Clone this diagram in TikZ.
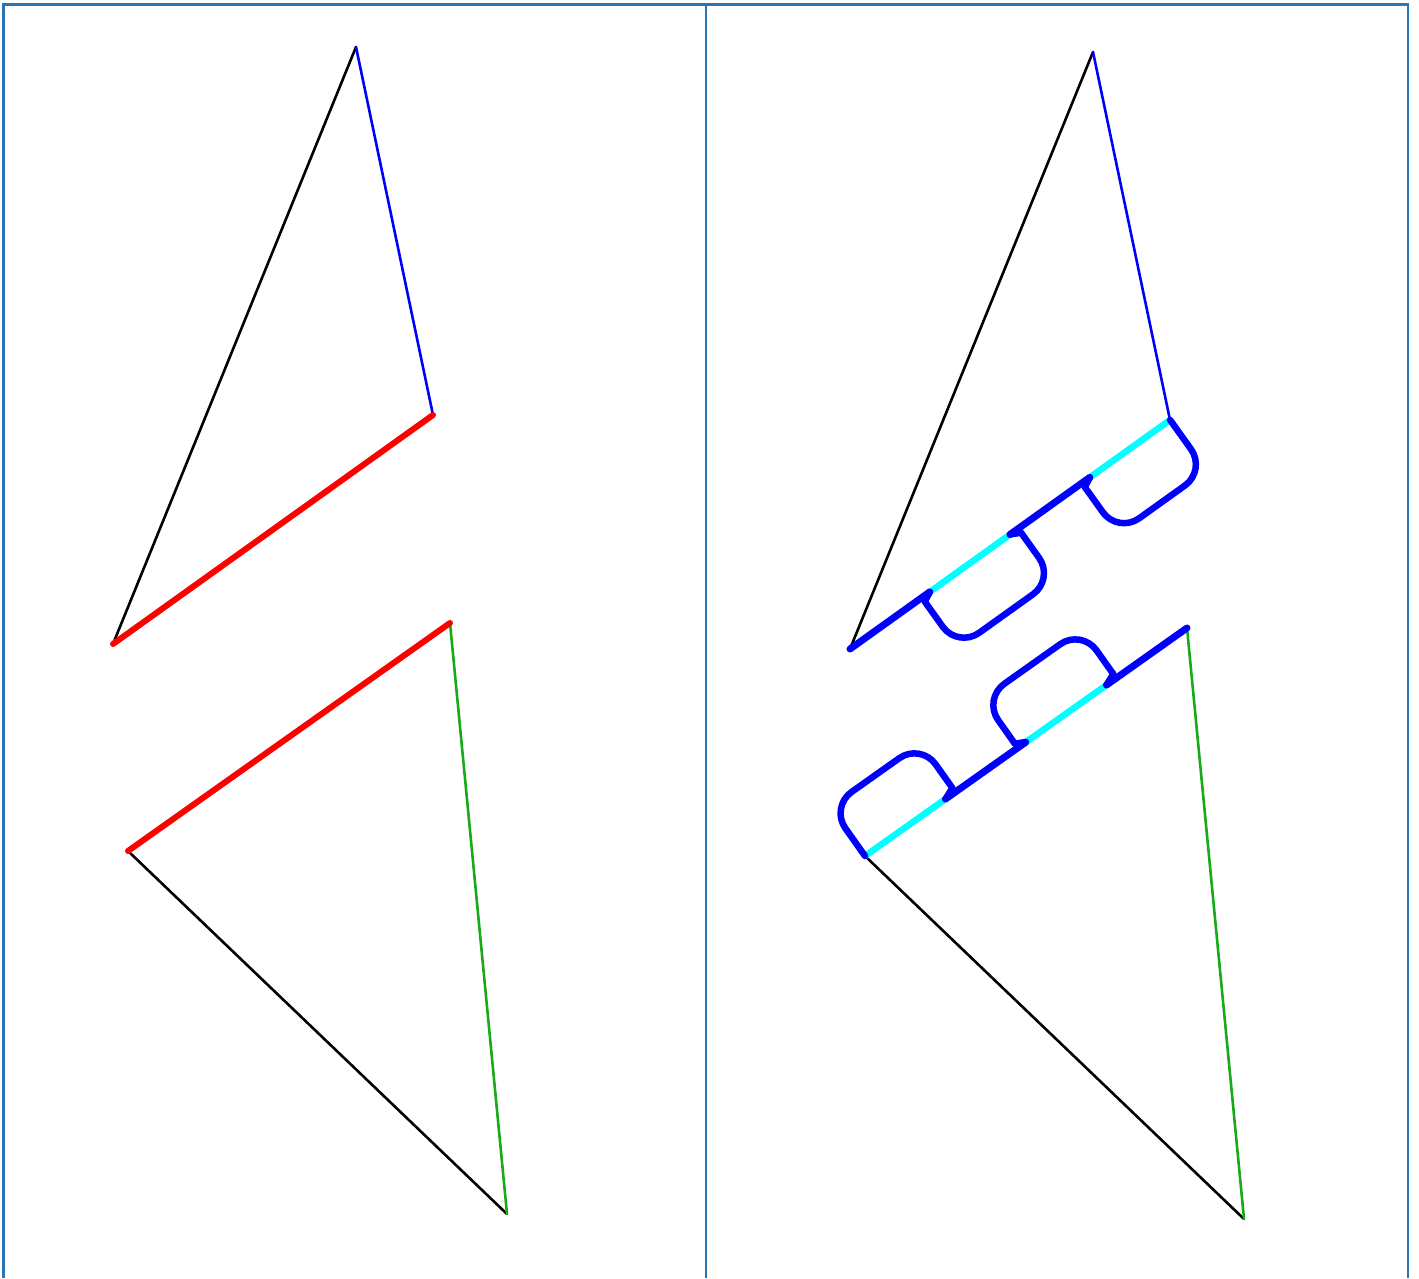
\documentclass[tikz,border=0pt]{standalone}
\definecolor{frame}{RGB}{41,117,182}
\definecolor{cutred}{RGB}{255,0,0}
\definecolor{foldgreen}{RGB}{25,170,25}
\definecolor{tabblue}{RGB}{0,0,255}
\definecolor{tabcyan}{RGB}{0,255,255}
\usepackage{tikz}
\usetikzlibrary{calc}

\begin{document}
\begin{tikzpicture}[x=1pt,y=1pt,
    panel/.style={frame,line width=2.8pt},
    edge/.style={line width=2.6pt,line cap=round,line join=round},
    seam/.style={cutred,line width=6pt,line cap=round},
    glue/.style={tabcyan,line width=6.5pt},
    fold/.style={tabblue,line width=7pt,line cap=round},
    flap/.style={tabblue,line width=6.5pt,line cap=round,line join=round}]
    \useasboundingbox (0,0) rectangle (1419,1278);

    % panel frames
    \draw[panel] (3.5,0) |- (1408,1273.5) -- (1408,0);
    \draw[panel] (706,0) -- (706,1273.5);

    % the two triangle pairs, right one shifted
    \foreach \p/\dx/\dy in {l/0/0,r/737/-5} {
        \begin{scope}[shift={(\dx,\dy)}]
            \coordinate (\p A) at (356,1231);
            \coordinate (\p B) at (433,863);
            \coordinate (\p C) at (113,634);
            \coordinate (\p D) at (450,655);
            \coordinate (\p E) at (128,427);
            \coordinate (\p F) at (507,64);
        \end{scope}
        \draw[edge,black] (\p A) -- (\p C);
        \draw[edge,blue] (\p A) -- (\p B);
        \draw[edge,black] (\p E) -- (\p F);
        \draw[edge,foldgreen] (\p D) -- (\p F);
    }

    % left: shared edge in red
    \draw[seam] (lB) -- (lC);
    \draw[seam] (lD) -- (lE);

    % right: shared edge split in quarters
    \foreach \i in {0,...,3} {
        \pgfmathsetmacro{\s}{\i/4}
        \pgfmathsetmacro{\e}{(\i+1)/4}
        \ifodd\i
            \draw[glue] ($(rC)!\s!(rB)$) -- ($(rC)!\e!(rB)$);
            \draw[fold] ($(rE)!\s!(rD)$) -- ($(rE)!\e!(rD)$);
        \else
            \draw[fold] ($(rC)!\s!(rB)$) -- ($(rC)!\e!(rB)$);
            \draw[glue] ($(rE)!\s!(rD)$) -- ($(rE)!\e!(rD)$);
        \fi
    }

    % flaps on the upper triangle
    \begin{scope}[shift={(rC)},rotate=35.59,yscale=-1]
        \foreach \i/\a/\b in {1/-10/10,3/-10/0} {
            \pgfmathsetmacro{\ts}{\i*98.4}
            \pgfmathsetmacro{\te}{(\i+1)*98.4}
            \pgfmathsetmacro{\xl}{\ts+\a}
            \pgfmathsetmacro{\xr}{\te+\b}
            \draw[flap] (\ts,0) -- (\xl,5);
            \draw[flap,rounded corners=26pt] (\xl,5) -- (\xl,62) -- (\xr,62) -- (\xr,5);
            \draw[flap] (\xr,5) -- (\te,0);
        }
    \end{scope}

    % flaps on the lower triangle
    \begin{scope}[shift={(rE)},rotate=35.31]
        \foreach \i/\a/\b in {0/0/12,2/-10/12} {
            \pgfmathsetmacro{\ts}{\i*98.6}
            \pgfmathsetmacro{\te}{(\i+1)*98.6}
            \pgfmathsetmacro{\xl}{\ts+\a}
            \pgfmathsetmacro{\xr}{\te+\b}
            \draw[flap] (\ts,0) -- (\xl,5);
            \draw[flap,rounded corners=26pt] (\xl,5) -- (\xl,60) -- (\xr,60) -- (\xr,5);
            \draw[flap] (\xr,5) -- (\te,0);
        }
    \end{scope}
\end{tikzpicture}
\end{document}
